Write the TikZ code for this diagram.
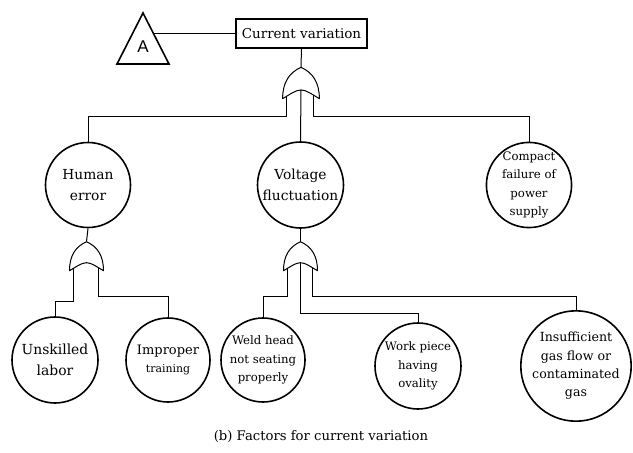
\documentclass[tikz,border=0pt]{standalone}
\usepackage{fontspec}
\setmainfont{DejaVu Serif}
\newfontfamily\gatesans{Liberation Sans}
\begin{document}
\begin{tikzpicture}[x=1pt,y=-1pt,
  conn/.style={line width=1pt},
  gate/.style={line width=1pt, fill=white, line join=round},
  event/.style={circle, draw, line width=1.6pt, inner sep=0pt, align=center},
  lblA/.style={font=\fontsize{13.8}{21.5}\selectfont},
  lblB/.style={font=\fontsize{11.7}{18.3}\selectfont},
  lblC/.style={font=\fontsize{12.6}{18.3}\selectfont},
  pics/orgate/.style={code={
    \draw[gate] (-17,29) .. controls (-17,14) and (-11,5) .. (0,0)
      .. controls (11,5) and (17,14) .. (17,29)
      .. controls (10,25) and (5,21) .. (0,21)
      .. controls (-5,21) and (-10,25) .. (-17,29) -- cycle;
    \coordinate (-top) at (0,0);
    \coordinate (-l) at (-13,26.6);
    \coordinate (-m) at (0,21);
    \coordinate (-r) at (12,26.1);
  }}
]
\useasboundingbox (0,0) rectangle (633,453);

% transfer triangle
\draw[line width=1.6pt, line join=miter] (143,13) -- (169,64) -- (117,64) -- cycle;
\node[font=\gatesans\fontsize{17}{17}\selectfont] (A) at (143,47) {A};
\coordinate (triR) at (153.2,33);

% top event
\node[draw, line width=1.6pt, minimum width=131pt, minimum height=29pt, inner sep=0pt,
      font=\fontsize{13.5}{18}\selectfont] (top) at (301.5,33.5) {Current variation};
\draw[conn] (triR) -- (top.west |- triR);

% intermediate events
\node[event, minimum size=85pt, lblA] (he) at (88,185) {Human\\error};
\node[event, minimum size=86pt, lblA] (vf) at (300.5,185) {Voltage\\fluctuation};
\node[event, minimum size=85pt, lblB] (cf) at (529,185) {Compact\\failure of\\power\\supply};

% basic events
\node[event, minimum size=86pt, font=\fontsize{13.9}{21}\selectfont] (ul) at (55,360) {Unskilled\\labor};
\node[event, minimum size=84pt, font=\fontsize{13}{17.5}\selectfont] (ip) at (168,360)
  {Improper\\{\fontsize{10.9}{17.5}\selectfont training}};
\node[event, minimum size=84pt, lblB] (wh) at (263,360) {Weld head\\not seating\\properly};
\node[event, minimum size=86pt, lblB] (wp) at (418,366) {Work piece\\having\\ovality};
\node[event, minimum size=98pt, lblC] (ig) at (576,366) {Insufficient\\gas flow or\\contaminated\\gas};

% bus levels of the gate inputs
\coordinate (bus0) at (0,116);
\coordinate (busHl) at (0,301.7);
\coordinate (busHr) at (0,296);
\coordinate (busVlr) at (0,296);
\coordinate (busVm) at (0,313);

% gates
\pic[scale=1.08] (g0) at (301,67.3) {orgate};
\pic (gh) at (86.5,241.7) {orgate};
\pic (gv) at (300.5,241.7) {orgate};

% connectors
\draw[conn] (top.south) -- (g0-top);
\draw[conn] (g0-l) -- (g0-l |- bus0) -| (he.north);
\draw[conn] (g0-m) -- (vf.north);
\draw[conn] (g0-r) -- (g0-r |- bus0) -| (cf.north);

\draw[conn] (he.south) -- (gh-top);
\draw[conn] (gh-l) -- (gh-l |- busHl) -| (ul.north);
\draw[conn] (gh-r) -- (gh-r |- busHr) -| (ip.north);

\draw[conn] (vf.south) -- (gv-top);
\draw[conn] (gv-l) -- (gv-l |- busVlr) -| (wh.north);
\draw[conn] (gv-m) -- (gv-m |- busVm) -| (wp.north);
\draw[conn] (gv-r) -- (gv-r |- busVlr) -| (ig.north);

% caption
\node[font=\fontsize{13.2}{18}\selectfont] (cap) at (321,437) {(b) Factors for current variation};
\end{tikzpicture}
\end{document}
